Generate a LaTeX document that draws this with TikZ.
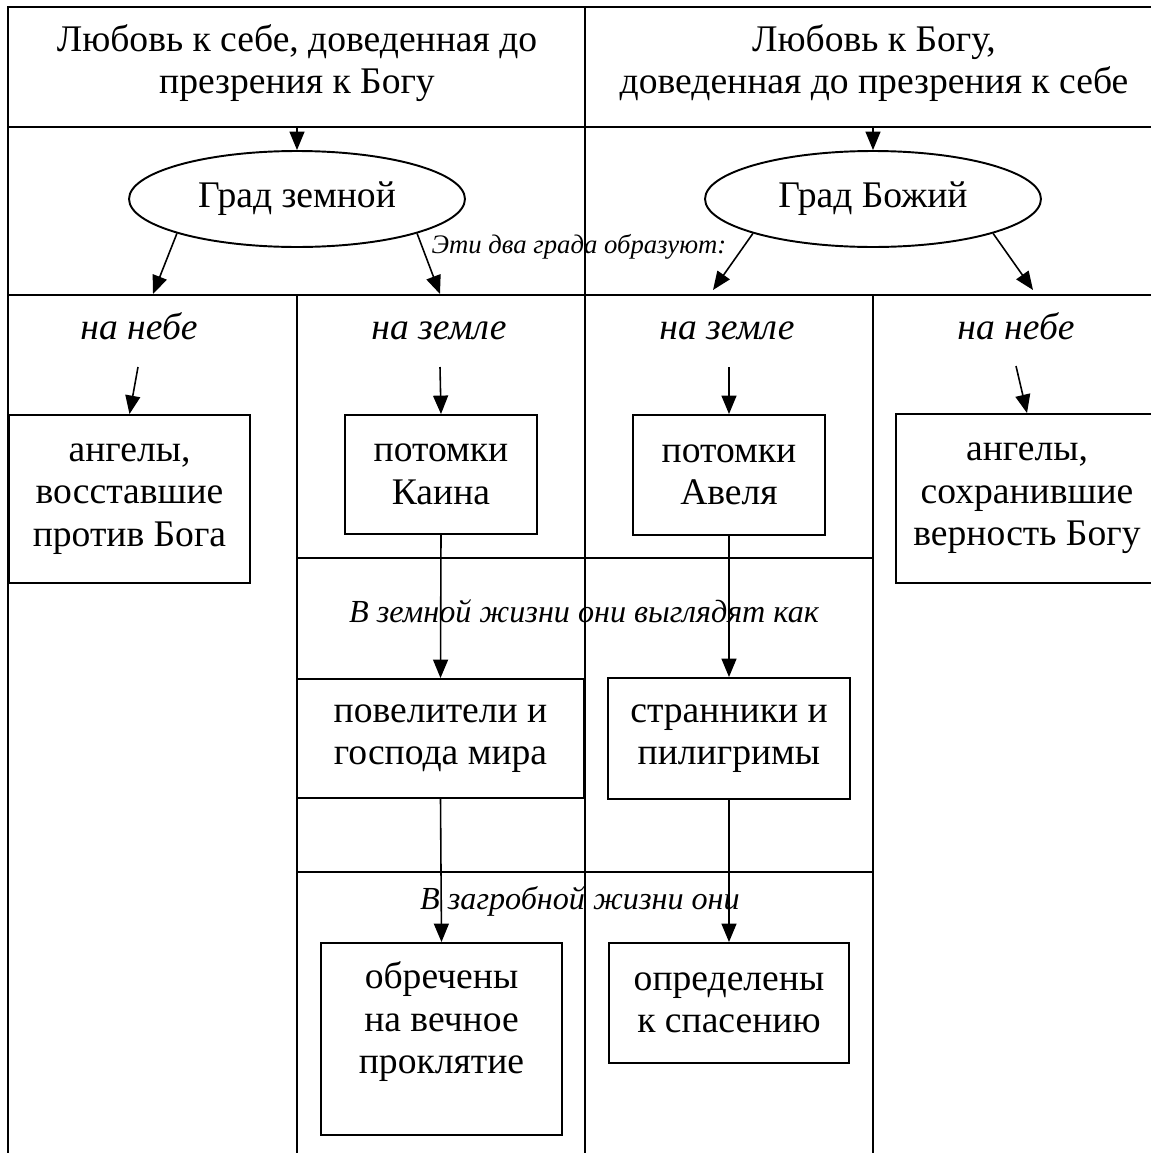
\documentclass[tikz,border=0pt]{standalone}
\usepackage{fontspec}
\setmainfont{Liberation Serif}
\usetikzlibrary{arrows.meta,shapes.geometric}
\newcommand\mainfs{\fontsize{21.4}{24.2}\selectfont}
\newcommand\midfs{\fontsize{18.3}{22}\selectfont}
\newcommand\smallfs{\fontsize{15.2}{18}\selectfont}
\begin{document}
\begin{tikzpicture}[x=0.02cm,y=-0.02cm,
  grid/.style={line width=1.1pt},
  arr/.style={line width=0.9pt,-{Triangle[length=10.5pt,width=8.5pt]}},
  box/.style={draw,line width=1.1pt,rectangle,inner sep=0pt,align=center,font=\mainfs},
  city/.style={draw,line width=1.1pt,ellipse,inner sep=0pt,font=\mainfs,minimum width=6.72cm,minimum height=1.92cm},
  head/.style={align=center,font=\mainfs,inner sep=0pt},
  lbl/.style={font=\mainfs\itshape,inner sep=0pt,anchor=base},
  rowlbl/.style={font=\midfs\itshape,inner sep=0pt,anchor=base},
  note/.style={font=\smallfs\itshape,inner sep=0pt,anchor=base}]
\useasboundingbox (0,0) rectangle (1151,1153);
% table grid
\draw[grid] (8,1165) -- (8,7) -- (1165,7);
\draw[grid] (8,127) -- (1165,127);
\draw[grid] (8,295) -- (1165,295);
\draw[grid] (585,7) -- (585,1165);
\draw[grid] (297,295) -- (297,1165);
\draw[grid] (873,295) -- (873,1165);
\draw[grid] (297,558) -- (873,558);
\draw[grid] (297,872) -- (873,872);
% headers
\node[head] (h1) at (297,63) {Любовь к себе, доведенная до\\презрения к Богу};
\node[head] (h2) at (874,63) {Любовь к Богу,\\доведенная до презрения к себе};
\coordinate (h1b) at (297,127);
\coordinate (h2b) at (873,127);
% cities
\node[city] (e1) at (297,199) {Град земной};
\node[city] (e2) at (873,199) {Град Божий};
\draw[arr] (h1b) -- (e1.north);
\draw[arr] (h2b) -- (e2.north);
\node[note] (n0) at (579,253) {Эти два града образуют:};
\coordinate (c1) at (153,294);
\coordinate (c2) at (440,294);
\coordinate (c3) at (713,290);
\coordinate (c4) at (1033,290);
\draw[arr] (e1.196) -- (c1);
\draw[arr] (e1.-16) -- (c2);
\draw[arr] (e2.196) -- (c3);
\draw[arr] (e2.-16) -- (c4);
% column labels
\node[lbl] (l1) at (139,339) {на небе};
\node[lbl] (l2) at (439,339) {на земле};
\node[lbl] (l3) at (727,339) {на земле};
\node[lbl] (l4) at (1016,339) {на небе};
\coordinate (s1) at (138,367);
\coordinate (s2) at (440,367);
\coordinate (s3) at (729,367);
\coordinate (s4) at (1016,366);
% boxes
\node[box,minimum width=4.82cm,minimum height=3.36cm] (b1) at (129.5,499) {ангелы,\\восставшие\\против Бога};
\node[box,minimum width=3.84cm,minimum height=2.38cm] (b2) at (441,474.5) {потомки\\Каина};
\node[box,minimum width=3.84cm,minimum height=2.40cm] (b3) at (729,475) {потомки\\Авеля};
\node[box,minimum width=5.24cm,minimum height=3.38cm] (b4) at (1027,498.5) {ангелы,\\сохранившие\\верность Богу};
\draw[arr] (s1) -- (b1.north);
\draw[arr] (s2) -- (b2.north);
\draw[arr] (s3) -- (b3.north);
\draw[arr] (s4) -- (b4.north);
\node[rowlbl] (m1) at (584,622) {В земной жизни они выглядят как};
\node[box,minimum width=5.74cm,minimum height=2.38cm] (b5) at (440.5,738.5) {повелители и\\господа мира};
\node[box,minimum width=4.84cm,minimum height=2.42cm] (b6) at (729,738.5) {странники и\\пилигримы};
\draw[arr] (b2.south) -- (b5.north);
\draw[arr] (b3.south) -- (b6.north);
\node[rowlbl] (m2) at (580,909) {В загробной жизни они};
\node[box,minimum width=4.82cm,minimum height=3.84cm] (b7) at (441.5,1039) {};
\node[head] (t7) at (441.5,1022) {обречены\\на вечное\\проклятие};
\node[box,minimum width=4.80cm,minimum height=2.40cm] (b8) at (729,1003) {определены\\к спасению};
\draw[arr] (b5.south) -- (b7.north);
\draw[arr] (b6.south) -- (b8.north);
\end{tikzpicture}
\end{document}
